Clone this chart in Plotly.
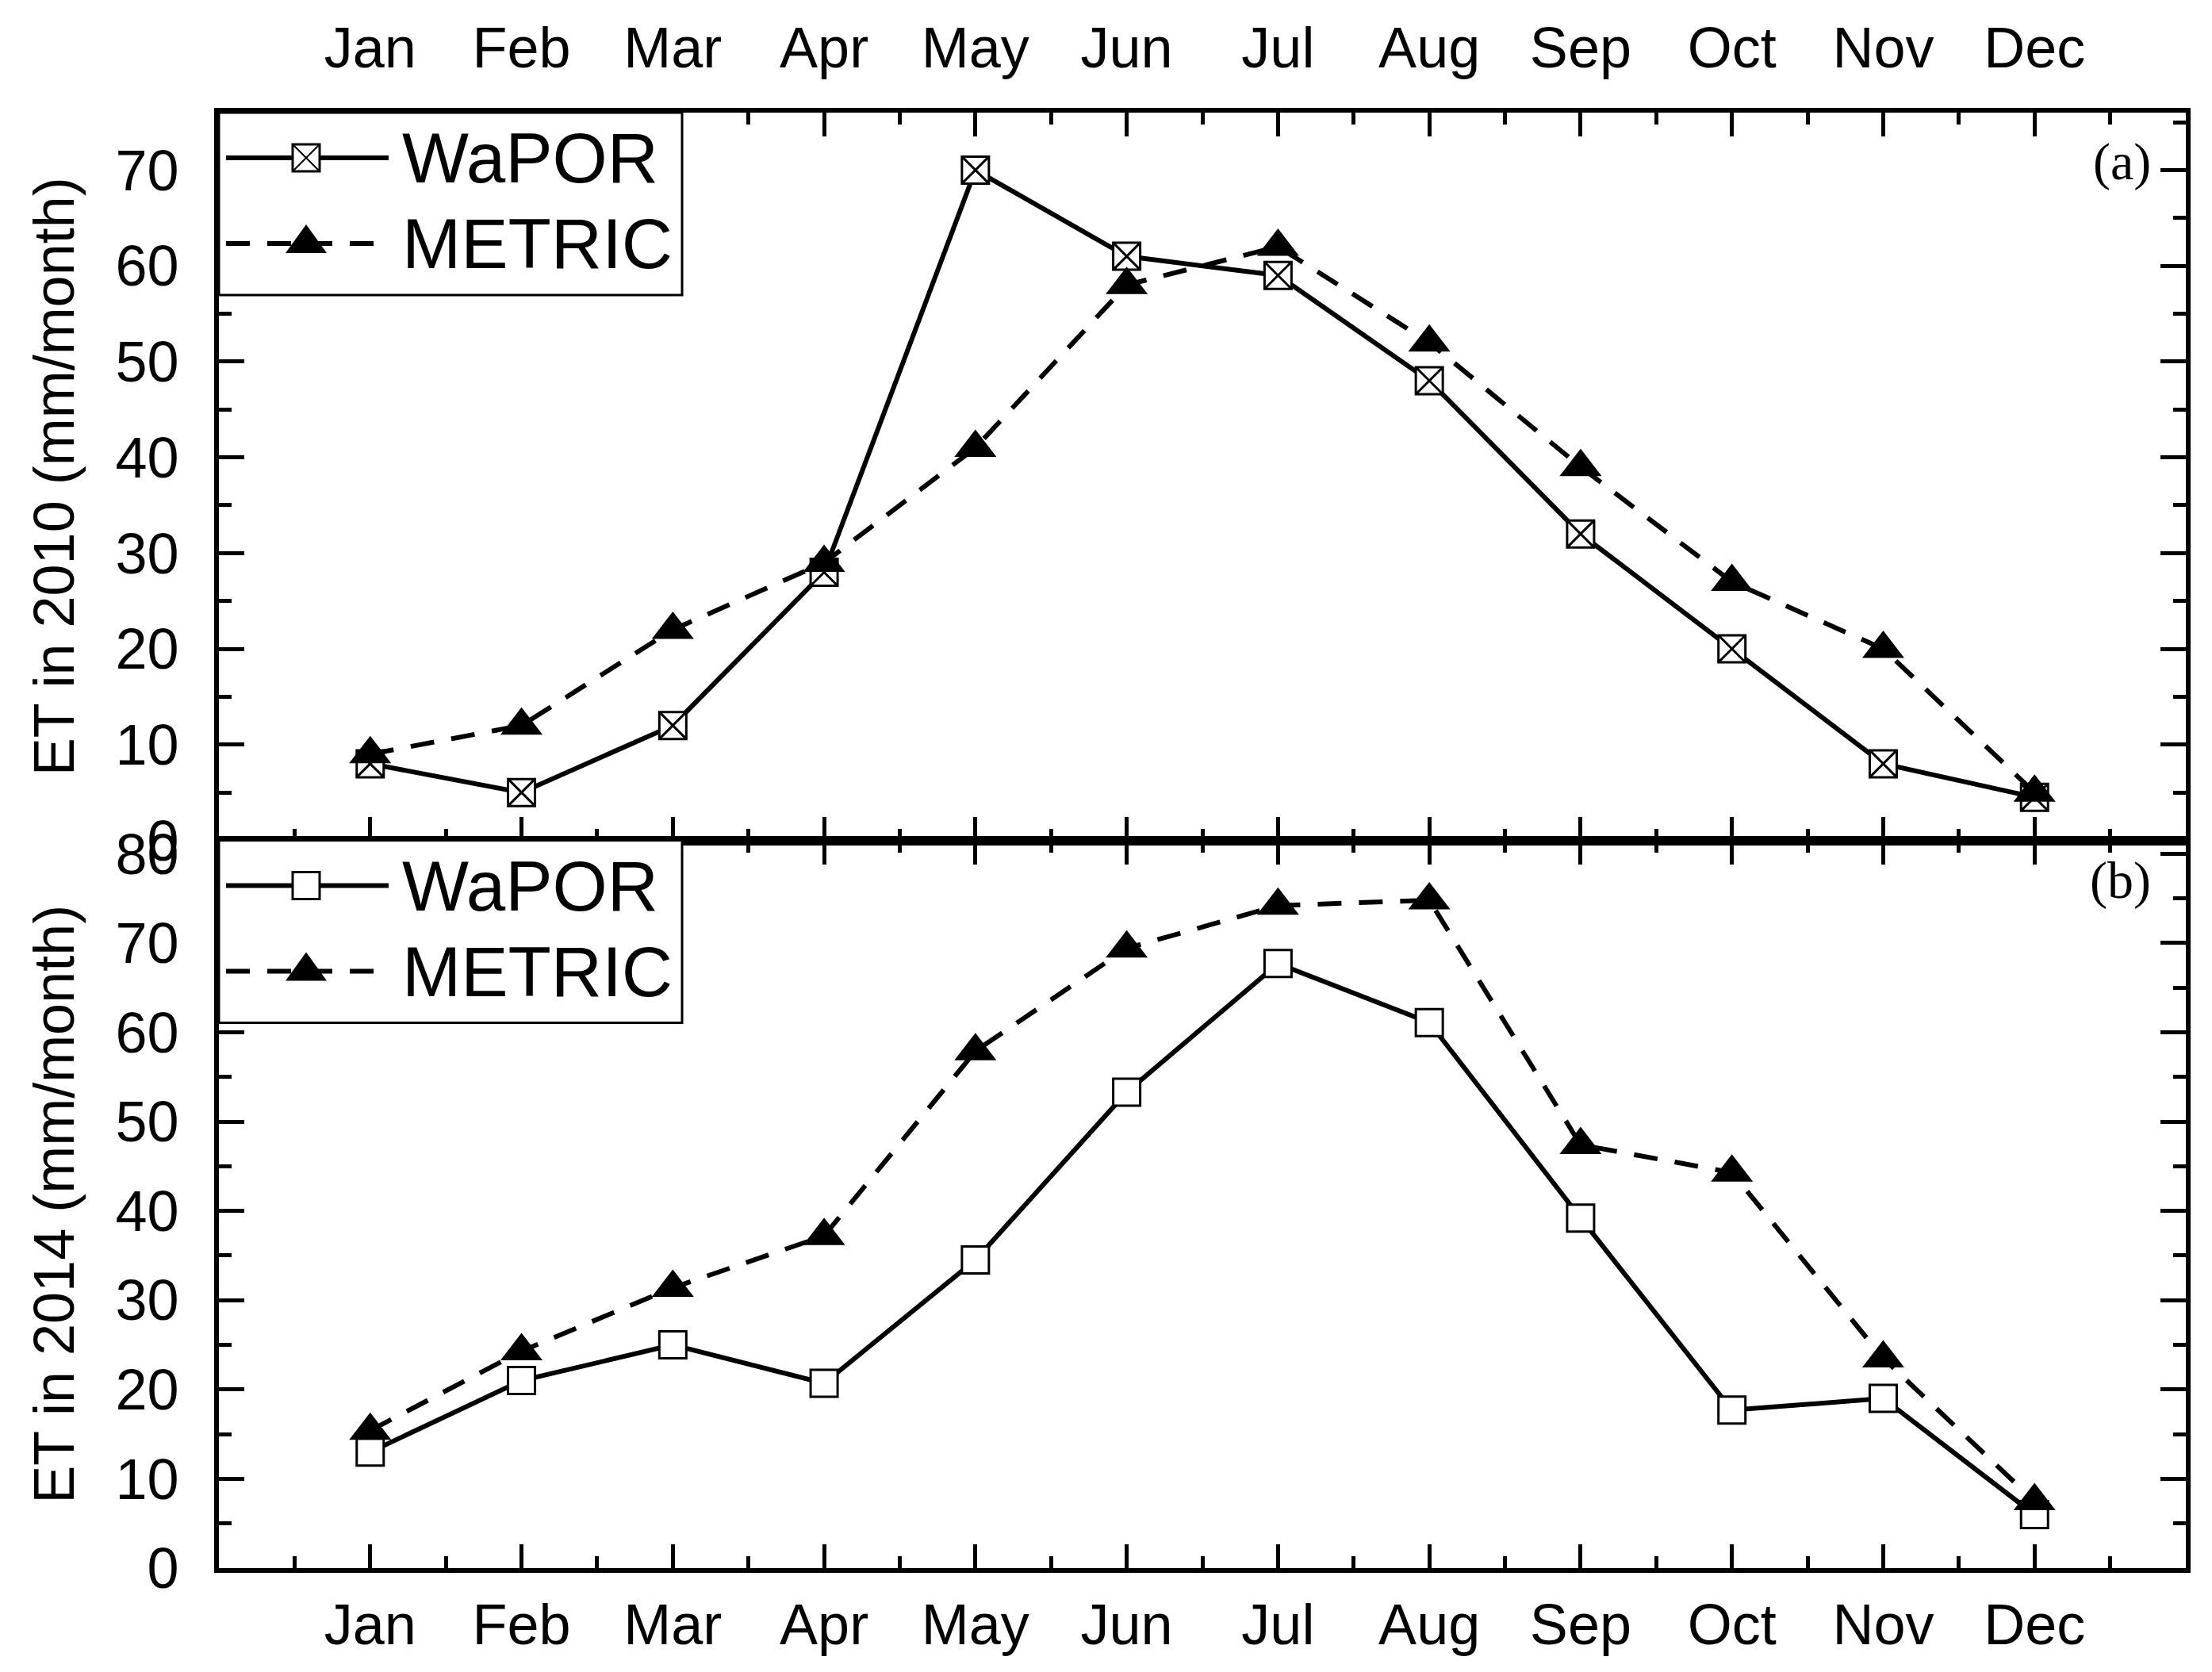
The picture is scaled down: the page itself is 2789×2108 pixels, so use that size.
import plotly.graph_objects as go

months = ["Jan", "Feb", "Mar", "Apr", "May", "Jun",
          "Jul", "Aug", "Sep", "Oct", "Nov", "Dec"]

# ET in 2010 (mm/month)
wapor_2010 = [8, 5, 12, 28, 70, 61, 59, 48, 32, 20, 8, 4.5]
metric_2010 = [9, 12, 22, 29, 41, 58, 62, 52, 39, 27, 20, 5]

# ET in 2014 (mm/month)
wapor_2014 = [13, 21, 25, 20.7, 34.5, 53.3, 67.7, 61.1, 39.2, 17.7, 19, 6]
metric_2014 = [15.4, 24.3, 31.4, 37.2, 57.9, 69.4, 74.2, 74.8, 47.4, 44.3, 23.5, 7.5]

series_names = ["WaPOR", "METRIC"]

FONT = "Liberation Sans, Arial, sans-serif"
SERIF = "Liberation Serif, Times New Roman, serif"
BLACK = "black"
LINE_W = 6
DASH = "30px,22px"
x_pos = list(range(len(months)))

fig = go.Figure()


def add_pair(wapor, metric, xa, ya, wapor_symbol):
    fig.add_trace(go.Scatter(
        x=x_pos, y=wapor, name=series_names[0], mode="lines+markers",
        xaxis=xa, yaxis=ya, showlegend=False,
        line=dict(color=BLACK, width=LINE_W),
        marker=dict(symbol=wapor_symbol, size=34, color="white",
                    line=dict(color=BLACK, width=3)),
    ))
    fig.add_trace(go.Scatter(
        x=x_pos, y=metric, name=series_names[1], mode="lines+markers",
        xaxis=xa, yaxis=ya, showlegend=False,
        line=dict(color=BLACK, width=LINE_W, dash=DASH),
        marker=dict(symbol="triangle-up", size=46, color=BLACK,
                    line=dict(color=BLACK, width=0)),
    ))


add_pair(wapor_2010, metric_2010, "x", "y", "square-x")
add_pair(wapor_2014, metric_2014, "x2", "y2", "square")


# legend box drawn in pixels from the top-left corner of each panel
def legend_items(xd, yd, crossed):
    px = dict(xref=xd, yref=yd, xsizemode="pixel", ysizemode="pixel",
              xanchor=0, yanchor=1)
    row1, row2 = -57, -165
    shapes = [
        dict(type="rect", x0=0, x1=584, y0=0, y1=-230, fillcolor="white",
             line=dict(color=BLACK, width=3), **px),
        dict(type="line", x0=9, x1=214, y0=row1, y1=row1,
             line=dict(color=BLACK, width=LINE_W), **px),
        dict(type="rect", x0=93, x1=127, y0=row1 - 17, y1=row1 + 17,
             fillcolor="white", line=dict(color=BLACK, width=3), **px),
        dict(type="line", x0=9, x1=214, y0=row2, y1=row2,
             line=dict(color=BLACK, width=LINE_W, dash=DASH), **px),
        dict(type="path", path=f"M84,{row2 - 12} L136,{row2 - 12} L110,{row2 + 24} Z",
             fillcolor=BLACK, line=dict(color=BLACK, width=0), **px),
    ]
    if crossed:
        shapes.append(dict(
            type="path",
            path=f"M93,{row1 - 17} L127,{row1 + 17} M93,{row1 + 17} L127,{row1 - 17}",
            line=dict(color=BLACK, width=2), **px))
    annots = [
        dict(text=name, xref=xd, yref=yd, x=0, y=1, xanchor="left", yanchor="middle",
             xshift=229, yshift=row, showarrow=False,
             font=dict(family=FONT, size=89, color=BLACK))
        for name, row in zip(series_names, [row1, row2])
    ]
    return shapes, annots


shapes_a, annots_a = legend_items("x domain", "y domain", True)
shapes_b, annots_b = legend_items("x2 domain", "y2 domain", False)

tick_font = dict(family=FONT, size=72, color=BLACK)
minor_x = [i + 0.5 for i in range(-1, 12)]

xcommon = dict(
    range=[-1, 12], tickmode="array", tickvals=x_pos, ticktext=months,
    ticks="inside", ticklen=30, tickwidth=5, tickcolor=BLACK,
    minor=dict(tickmode="array", tickvals=minor_x, ticks="inside",
               ticklen=15, tickwidth=5, tickcolor=BLACK),
    showline=True, linewidth=6, linecolor=BLACK, mirror="ticks",
    showgrid=False, zeroline=False, tickfont=tick_font,
)
ycommon = dict(
    ticks="inside", ticklen=32, tickwidth=5, tickcolor=BLACK,
    dtick=10, tick0=0,
    minor=dict(dtick=5, ticks="inside", ticklen=16, tickwidth=5, tickcolor=BLACK),
    showline=True, linewidth=6, linecolor=BLACK, mirror="ticks",
    showgrid=False, zeroline=False, tickfont=tick_font,
    ticklabelstandoff=30,
)

fig.update_layout(
    width=2789, height=2108,
    margin=dict(l=268, r=41, t=128, b=139),
    paper_bgcolor="white", plot_bgcolor="white",
    font=dict(family=FONT, color=BLACK),
    showlegend=False,
    xaxis=dict(xcommon, anchor="y", side="top", ticklabelstandoff=22),
    xaxis2=dict(xcommon, anchor="y2", side="bottom", ticklabelstandoff=4),
    yaxis=dict(ycommon, domain=[0.5, 1.0], range=[0, 76], anchor="x",
               title=dict(text="ET in 2010 (mm/month)", standoff=30,
                          font=dict(family=FONT, size=72, color=BLACK))),
    yaxis2=dict(ycommon, domain=[0.0, 0.5], range=[0, 81.5], anchor="x2",
                title=dict(text="ET in 2014 (mm/month)", standoff=30,
                           font=dict(family=FONT, size=72, color=BLACK))),
    shapes=shapes_a + shapes_b,
    annotations=annots_a + annots_b + [
        dict(text="(a)", xref="x domain", yref="y domain", x=0.983, y=0.932,
             xanchor="right", yanchor="middle", showarrow=False,
             font=dict(family=SERIF, size=66, color=BLACK)),
        dict(text="(b)", xref="x2 domain", yref="y2 domain", x=0.983, y=0.945,
             xanchor="right", yanchor="middle", showarrow=False,
             font=dict(family=SERIF, size=66, color=BLACK)),
    ],
)

fig.write_html("out.html")
